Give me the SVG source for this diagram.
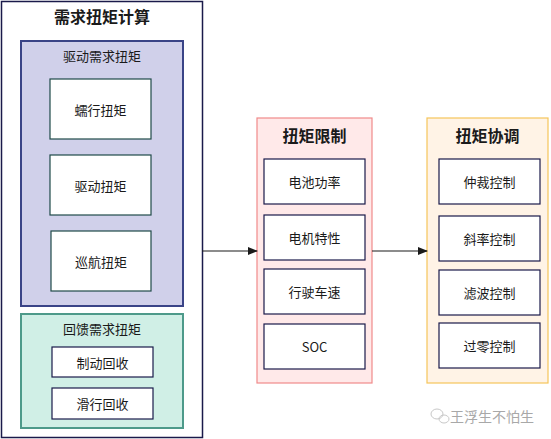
<svg xmlns="http://www.w3.org/2000/svg" width="551" height="439" viewBox="0 0 551 439">
<style>
text{font-family:"Noto Sans CJK SC","Noto Sans",sans-serif;text-anchor:middle;dominant-baseline:central;fill:#1a1a1a}
.t{font-size:16px;font-weight:bold}
.l{font-size:13px}
.b{fill:#ffffff;stroke:#1a1a4a;stroke-width:1.2}
.bt{fill:#ffffff;stroke:#1f4a48;stroke-width:1.2}
</style>
<defs>
<marker id="ah" markerWidth="10" markerHeight="8" refX="9" refY="4" orient="auto" markerUnits="userSpaceOnUse">
<path d="M0,0 L10,4 L0,8 Z" fill="#1a1a1a"/>
</marker>
</defs>
<rect width="551" height="439" fill="#ffffff"/>
<g id="calc">
<rect x="1.5" y="1.5" width="201" height="436" fill="#ffffff" stroke="#1a1a4a" stroke-width="1.5"/>
<text class="t" x="102" y="16">需求扭矩计算</text>
</g>
<g id="drive">
<rect x="21" y="41" width="162" height="265" fill="#d0d0ea" stroke="#3a4487" stroke-width="2"/>
<text class="l" x="102" y="55">驱动需求扭矩</text>
</g>
<g id="creep"><rect class="bt" x="50" y="79" width="101" height="60"/><text class="l" x="100.5" y="109">蠕行扭矩</text></g>
<g id="drivetq"><rect class="bt" x="50" y="155" width="101" height="60"/><text class="l" x="100.5" y="185">驱动扭矩</text></g>
<g id="cruise"><rect class="bt" x="51" y="231" width="100" height="60"/><text class="l" x="101" y="261">巡航扭矩</text></g>
<g id="regen">
<rect x="21" y="314" width="162" height="114" fill="#d0efe6" stroke="#4d9a8a" stroke-width="2"/>
<text class="l" x="102" y="328">回馈需求扭矩</text>
</g>
<g id="brake"><rect class="b" x="52" y="347" width="101" height="30"/><text class="l" x="102.5" y="362">制动回收</text></g>
<g id="coast"><rect class="b" x="52" y="388" width="101" height="31"/><text class="l" x="102.5" y="403.5">滑行回收</text></g>
<g id="limit">
<rect x="257" y="118" width="115" height="265" fill="#ffe9e9" stroke="#f08a8a" stroke-width="1.2"/>
<text class="t" x="314.5" y="135">扭矩限制</text>
</g>
<g id="batt"><rect class="b" x="264" y="159" width="101" height="45"/><text class="l" x="314.5" y="181.5">电池功率</text></g>
<g id="motor"><rect class="b" x="264" y="215" width="101" height="45"/><text class="l" x="314.5" y="237.5">电机特性</text></g>
<g id="speed"><rect class="b" x="264" y="269" width="101" height="45"/><text class="l" x="314.5" y="291.5">行驶车速</text></g>
<g id="soc"><rect class="b" x="264" y="324" width="101" height="45"/><text class="l" x="314.5" y="346.5">SOC</text></g>
<g id="coord">
<rect x="427" y="118" width="121" height="265" fill="#fff3e6" stroke="#f5c55a" stroke-width="1.2"/>
<text class="t" x="487.5" y="135">扭矩协调</text>
</g>
<g id="arb"><rect class="b" x="439" y="159" width="101" height="45"/><text class="l" x="489.5" y="181.5">仲裁控制</text></g>
<g id="slope"><rect class="b" x="439" y="216" width="101" height="45"/><text class="l" x="489.5" y="238.5">斜率控制</text></g>
<g id="filter"><rect class="b" x="439" y="270" width="101" height="45"/><text class="l" x="489.5" y="292.5">滤波控制</text></g>
<g id="zero"><rect class="b" x="439" y="323" width="101" height="45"/><text class="l" x="489.5" y="345.5">过零控制</text></g>
<g id="connectors" stroke="#1a1a1a" stroke-width="1.2" fill="none">
<line x1="202" y1="251" x2="257" y2="251" marker-end="url(#ah)"/>
<line x1="372" y1="251" x2="427" y2="251" marker-end="url(#ah)"/>
</g>
<g id="watermark">
<ellipse cx="437" cy="414" rx="6" ry="5" fill="none" stroke="#c8c8c8" stroke-width="1"/>
<ellipse cx="444" cy="419" rx="5" ry="4" fill="none" stroke="#c8c8c8" stroke-width="1"/>
<text x="492" y="416" style="font-size:14px;fill:#a8a8a8">王浮生不怕生</text>
</g>
</svg>
